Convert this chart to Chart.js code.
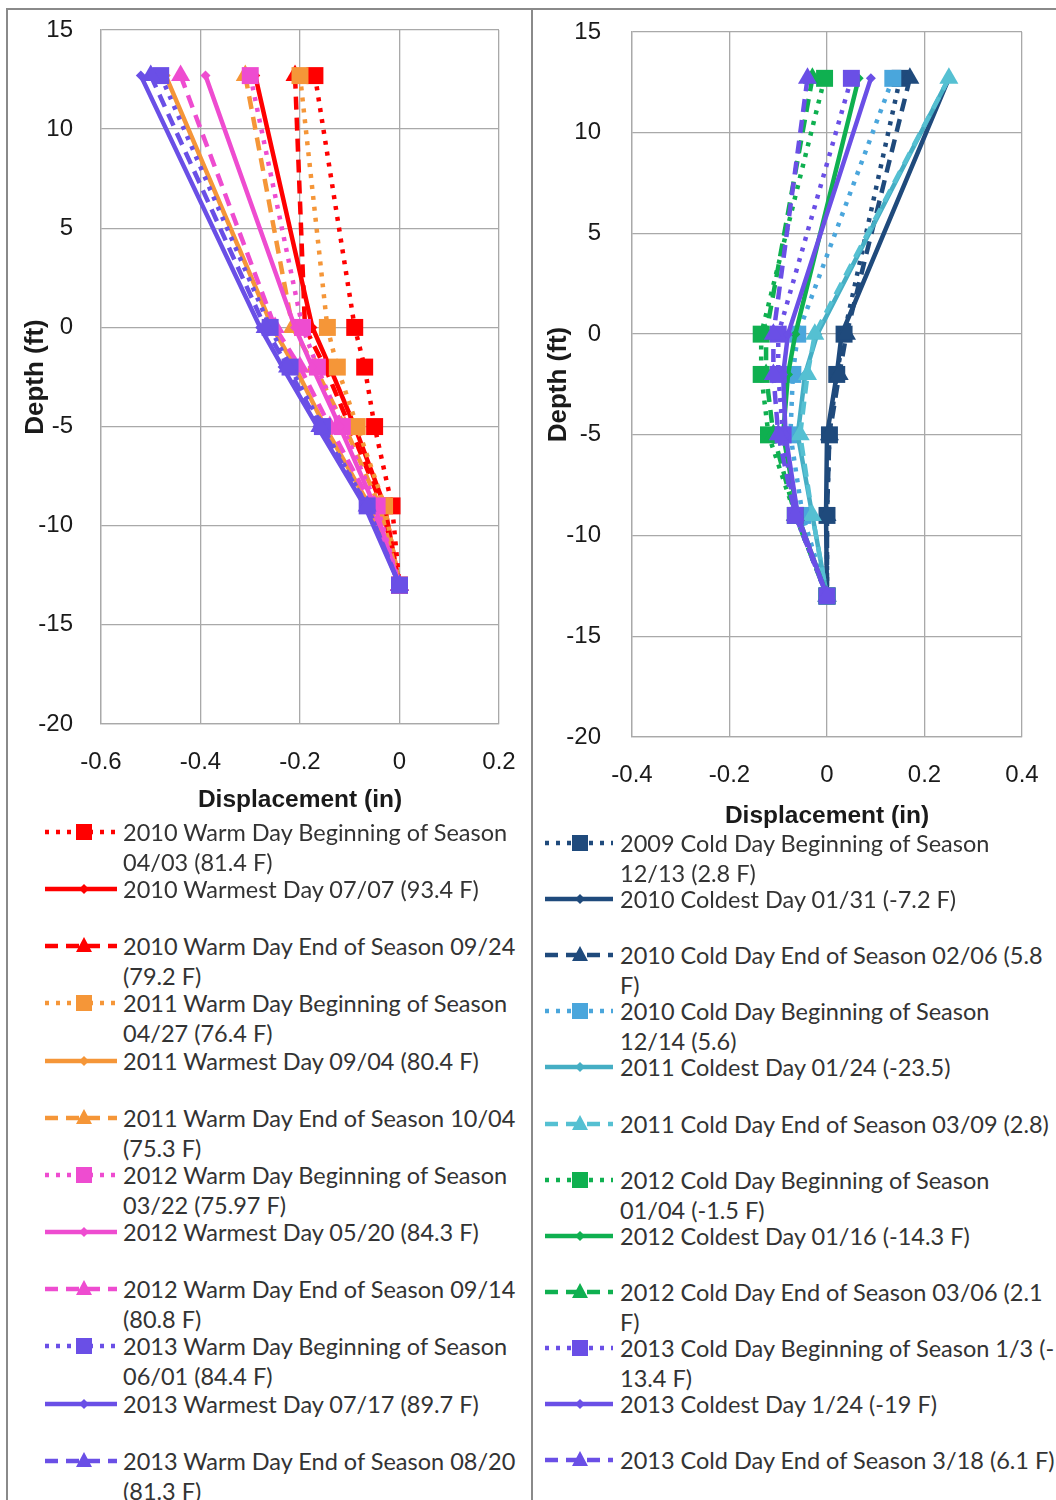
<!DOCTYPE html>
<html>
<head>
<meta charset="utf-8">
<script src="https://cdn.jsdelivr.net/npm/chart.js@4.4.0/dist/chart.umd.min.js"></script>
<style>
	body { margin: 0; background: #fff; font-family: Lato, sans-serif; }
	.panel { position: absolute; top: 8px; height: 1500px; border: 2px solid #8a8a8a; border-bottom: none; box-sizing: border-box; }
	.panel canvas { position: absolute; }
	.legend { position: absolute; }
	.item { position: absolute; left: 0; }
	.item svg { position: absolute; left: 0; top: 0; }
	.item .txt { position: absolute; top: 0; font-size: 23.5px; line-height: 30px; color: #333; white-space: nowrap; }
</style>
</head>
<body>
<div class="panel" style="left:6px; width:527px;">
	<canvas id="warmChart" style="left:0; top:2px;"></canvas>
	<div class="legend" id="warmLegend"></div>
</div>
<div class="panel" style="left:531px; width:525px; border-right:none;">
	<canvas id="coldChart" style="left:0; top:2px;"></canvas>
	<div class="legend" id="coldLegend"></div>
</div>
<script>
// Depth of each reading (ft)
var depths = [12.7, 0, -2, -5, -9, -13];

/* ---------------- WARM SEASON (in) ---------------- */
var warm2010Begin   = [-0.17, -0.09, -0.07, -0.05, -0.015, 0];
var warm2010Warmest = [-0.29, -0.175, -0.14, -0.09, -0.03, 0];
var warm2010End     = [-0.21, -0.19, -0.15, -0.10, -0.035, 0];
var warm2011Begin   = [-0.20, -0.145, -0.125, -0.085, -0.03, 0];
var warm2011Warmest = [-0.47, -0.255, -0.21, -0.15, -0.06, 0];
var warm2011End     = [-0.31, -0.215, -0.17, -0.11, -0.04, 0];
var warm2012Begin   = [-0.30, -0.195, -0.165, -0.115, -0.045, 0];
var warm2012Warmest = [-0.39, -0.21, -0.175, -0.12, -0.05, 0];
var warm2012End     = [-0.44, -0.25, -0.20, -0.14, -0.055, 0];
var warm2013Begin   = [-0.48, -0.26, -0.22, -0.155, -0.065, 0];
var warm2013Warmest = [-0.52, -0.28, -0.235, -0.165, -0.07, 0];
var warm2013End     = [-0.50, -0.27, -0.225, -0.16, -0.065, 0];

var warmLabels = [
	['2010 Warm Day Beginning of Season', '04/03 (81.4 F)'],
	['2010 Warmest Day 07/07 (93.4 F)'],
	['2010 Warm Day End of Season 09/24', '(79.2 F)'],
	['2011 Warm Day Beginning of Season', '04/27 (76.4 F)'],
	['2011 Warmest Day 09/04 (80.4 F)'],
	['2011 Warm Day End of Season 10/04', '(75.3 F)'],
	['2012 Warm Day Beginning of Season', '03/22 (75.97 F)'],
	['2012 Warmest Day 05/20 (84.3 F)'],
	['2012 Warm Day End of Season 09/14', '(80.8 F)'],
	['2013 Warm Day Beginning of Season', '06/01 (84.4 F)'],
	['2013 Warmest Day 07/17 (89.7 F)'],
	['2013 Warm Day End of Season 08/20', '(81.3 F)']
];

/* ---------------- COLD SEASON (in) ---------------- */
var cold2009Begin   = [0.15, 0.035, 0.02, 0.005, 0, 0];
var cold2010Coldest = [0.25, 0.03, 0.02, 0.0, -0.002, 0];
var cold2010End     = [0.17, 0.04, 0.025, 0.005, 0, 0];
var cold2010Begin   = [0.135, -0.06, -0.07, -0.075, -0.05, 0];
var cold2011Coldest = [0.25, -0.02, -0.045, -0.06, -0.03, 0];
var cold2011End     = [0.25, -0.025, -0.04, -0.055, -0.03, 0];
var cold2012Begin   = [-0.005, -0.135, -0.135, -0.12, -0.065, 0];
var cold2012Coldest = [0.065, -0.065, -0.08, -0.09, -0.06, 0];
var cold2012End     = [-0.03, -0.125, -0.125, -0.11, -0.065, 0];
var cold2013Begin   = [0.05, -0.10, -0.10, -0.09, -0.065, 0];
var cold2013Coldest = [0.09, -0.08, -0.09, -0.085, -0.06, 0];
var cold2013End     = [-0.04, -0.11, -0.11, -0.10, -0.065, 0];

var coldLabels = [
	['2009 Cold Day Beginning of Season', '12/13 (2.8 F)'],
	['2010 Coldest Day 01/31 (-7.2 F)'],
	['2010 Cold Day End of Season 02/06 (5.8', 'F)'],
	['2010 Cold Day Beginning of Season', '12/14 (5.6)'],
	['2011 Coldest Day 01/24 (-23.5)'],
	['2011 Cold Day End of Season 03/09 (2.8)'],
	['2012 Cold Day Beginning of Season', '01/04 (-1.5 F)'],
	['2012 Coldest Day 01/16 (-14.3 F)'],
	['2012 Cold Day End of Season 03/06 (2.1', 'F)'],
	['2013 Cold Day Beginning of Season 1/3 (-', '13.4 F)'],
	['2013 Coldest Day 1/24 (-19 F)'],
	['2013 Cold Day End of Season 3/18 (6.1 F)']
];

// TODO: colors picked by eye from the original
var warmColors = ['#ff0000', '#ff0000', '#ff0000', '#f59638', '#f59638', '#f59638',
	'#ee4cd0', '#ee4cd0', '#ee4cd0', '#6a4fe6', '#6a4fe6', '#6a4fe6'];
var coldColors = ['#1f4a7c', '#1f4a7c', '#1f4a7c', '#4aa6dc', '#45aec4', '#55c0d2',
	'#0fb050', '#0fb050', '#0fb050', '#6a4fe6', '#6a4fe6', '#6a4fe6'];

// Beginning = dotted + square, Warmest/Coldest = solid + diamond, End = dashed + triangle
var styles = [
	{dash: [4, 7], point: 'rect', radius: 12},
	{dash: [], point: 'rectRot', radius: 5},
	{dash: [13, 8], point: 'triangle', radius: 11}
];

var makeDatasets = function(series, labels, colors) {
	var sets = [];
	for (var i = 0; i < series.length; i++) {
		var st = styles[i % 3];
		var pts = [];
		for (var j = 0; j < depths.length; j++) {
			pts.push({x: series[i][j], y: depths[j]});
		}
		sets.push({
			label: labels[i].join(' '),
			data: pts,
			showLine: true,
			borderColor: colors[i],
			backgroundColor: colors[i],
			borderWidth: 4.5,
			borderDash: st.dash,
			pointStyle: st.point,
			pointRadius: st.radius,
			pointBorderWidth: 0,
			order: series.length - i
		});
	}
	return sets;
}

var makeChart = function(id, w, h, series, labels, colors, xr, plot) {
	var canvas = document.getElementById(id);
	canvas.style.width = w + 'px';
	canvas.style.height = h + 'px';
	// label gap done with invisible tick marks, so it does not count as label overflow
	var gridX = {color: '#a9a9a9', lineWidth: 1.3, drawTicks: true, tickLength: plot.xtick, tickColor: 'rgba(0,0,0,0)'};
	var gridY = {color: '#a9a9a9', lineWidth: 1.3, drawTicks: true, tickLength: plot.ytick, tickColor: 'rgba(0,0,0,0)'};
	return new Chart(canvas.getContext('2d'), {
		type: 'scatter',
		data: {datasets: makeDatasets(series, labels, colors)},
		options: {
			responsive: false,
			animation: false,
			devicePixelRatio: 1,
			layout: {padding: {left: 0, top: plot.top, right: plot.right, bottom: 0}},
			plugins: {legend: {display: false}, tooltip: {enabled: false}},
			scales: {
				x: {
					type: 'linear', min: xr[0], max: xr[1],
					ticks: {stepSize: 0.2, padding: 0, color: '#1a1a1a', font: {size: 24}},
					grid: gridX,
					border: {color: '#a9a9a9', width: 1.3},
					title: {display: true, text: 'Displacement (in)', color: '#1a1a1a',
						font: {size: 24.5, weight: 'bold'}, padding: {top: 0, bottom: plot.xtitlePad}},
					afterFit: function(s) { s.height = plot.xh; }
				},
				y: {
					type: 'linear', min: -20, max: 15,
					ticks: {stepSize: 5, padding: 0, color: '#1a1a1a', font: {size: 24}},
					grid: gridY,
					border: {color: '#a9a9a9', width: 1.3},
					title: {display: true, text: 'Depth (ft)', color: '#1a1a1a',
						font: {size: 26, weight: 'bold'}, padding: {top: plot.ytitlePad, bottom: 0}},
					afterFit: function(s) { s.width = plot.yw; }
				}
			}
		}
	});
}

var warmSeries = [warm2010Begin, warm2010Warmest, warm2010End, warm2011Begin, warm2011Warmest, warm2011End,
	warm2012Begin, warm2012Warmest, warm2012End, warm2013Begin, warm2013Warmest, warm2013End];
var coldSeries = [cold2009Begin, cold2010Coldest, cold2010End, cold2010Begin, cold2011Coldest, cold2011End,
	cold2012Begin, cold2012Coldest, cold2012End, cold2013Begin, cold2013Coldest, cold2013End];

makeChart('warmChart', 523, 808, warmSeries, warmLabels, warmColors, [-0.6, 0.2],
	{top: 18, right: 32, xh: 96, yw: 93, xtick: 24, xtitlePad: 5, ytick: 28, ytitlePad: 12});
makeChart('coldChart', 523, 830, coldSeries, coldLabels, coldColors, [-0.4, 0.4],
	{top: 20, right: 34, xh: 105, yw: 99, xtick: 24, xtitlePad: 11, ytick: 31, ytitlePad: 10});

/* ---------------- HTML LEGENDS ---------------- */
var markerSvg = function(kind, cx, cy, color) {
	if (kind == 'rect') return '<rect x="' + (cx - 8) + '" y="' + (cy - 8) + '" width="16" height="16" fill="' + color + '"/>';
	if (kind == 'rectRot') return '<polygon points="' + cx + ',' + (cy - 5) + ' ' + (cx + 5) + ',' + cy + ' ' + cx + ',' + (cy + 5) + ' ' + (cx - 5) + ',' + cy + '" fill="' + color + '"/>';
	return '<polygon points="' + cx + ',' + (cy - 9) + ' ' + (cx + 8) + ',' + (cy + 6) + ' ' + (cx - 8) + ',' + (cy + 6) + '" fill="' + color + '"/>';
}

var buildLegend = function(id, labels, colors, opt) {
	var box = document.getElementById(id);
	box.style.left = opt.left + 'px';
	box.style.top = opt.top + 'px';
	for (var i = 0; i < labels.length; i++) {
		var st = styles[i % 3];
		var item = document.createElement('div');
		item.className = 'item';
		item.style.top = Math.round(i * opt.step) + 'px';
		var sw = opt.swatch;
		var dash = st.dash.length ? ' stroke-dasharray="' + st.dash.join(' ') + '"' : '';
		item.innerHTML = '<svg width="' + sw + '" height="30">' +
			'<line x1="0" y1="15" x2="' + sw + '" y2="15" stroke="' + colors[i] + '" stroke-width="4.5"' + dash + '/>' +
			markerSvg(st.point, opt.mark, 15, colors[i]) + '</svg>' +
			'<div class="txt" style="left:' + opt.textLeft + 'px">' + labels[i].join('<br>') + '</div>';
		box.appendChild(item);
	}
}

buildLegend('warmLegend', warmLabels, warmColors, {left: 37, top: 807, step: 57.15, swatch: 72, mark: 39, textLeft: 78});
buildLegend('coldLegend', coldLabels, coldColors, {left: 12, top: 818, step: 56.1, swatch: 68, mark: 35, textLeft: 75});
</script>
</body>
</html>
